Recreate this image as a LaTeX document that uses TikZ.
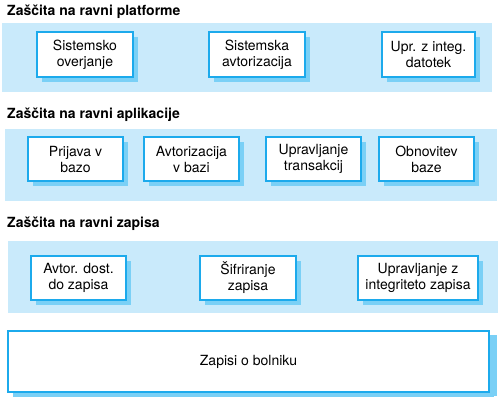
\documentclass[tikz,border=0pt]{standalone}
\usepackage{fontspec}
\setmainfont{TeX Gyre Heros}
\usetikzlibrary{shadows}
\definecolor{bandblue}{RGB}{201,234,251}
\definecolor{edgeblue}{RGB}{28,170,236}
\definecolor{shadeblue}{RGB}{122,208,246}
\tikzset{
  band/.style={fill=bandblue, draw=none, inner sep=0pt},
  layertitle/.style={anchor=base west, inner sep=0pt, font=\fontsize{14}{16}\selectfont\bfseries},
  comp/.style={draw=edgeblue, line width=1.5pt, fill=white, inner sep=0pt, align=center,
    font=\fontsize{14}{16}\selectfont,
    drop shadow={shadow xshift=5pt, shadow yshift=-5pt, fill=shadeblue, opacity=1}},
  bigcomp/.style={comp, drop shadow={shadow xshift=8pt, shadow yshift=-4pt, fill=shadeblue, opacity=1}}
}
\newcommand{\bandrect}[5]{\node[band, minimum width={#3-#2}, minimum height={#5-#4}] (#1) at ({(#2+#3)/2},{(#4+#5)/2}) {};}
\newcommand{\comprect}[6]{\node[comp, minimum width={#3-#2}, minimum height={#5-#4}] (#1) at ({(#2+#3)/2},{(#4+#5)/2}) {#6};}
\begin{document}
\begin{tikzpicture}[x=1pt,y=-1pt]
\useasboundingbox (0,0) rectangle (500,402);
% layer 1
\node[layertitle] (t1) at (7,15) {Zaščita na ravni platforme};
\bandrect{b1}{2}{492}{23}{92}
\comprect{p1}{37}{133}{32}{77}{Sistemsko\\overjanje}
\comprect{p2}{209}{305}{32}{77}{Sistemska\\avtorizacija}
\comprect{p3}{382}{475}{32}{77}{Upr. z integ.\\datotek}
% layer 2
\node[layertitle] (t2) at (7,118) {Zaščita na ravni aplikacije};
\bandrect{b2}{5}{497}{129}{201}
\comprect{a1}{28}{123}{137}{181}{Prijava v\\bazo}
\comprect{a2}{144}{239}{137}{181}{Avtorizacija\\v bazi}
\comprect{a3}{266}{361}{137}{181}{Upravljanje\\transakcij}
\comprect{a4}{379}{474}{137}{181}{Obnovitev\\baze}
% layer 3
\node[layertitle] (t3) at (7,227) {Zaščita na ravni zapisa};
\bandrect{b3}{8}{498}{241}{313}
\comprect{r1}{31}{126}{256}{300}{Avtor. dost.\\do zapisa}
\comprect{r2}{200}{296}{256}{300}{Šifriranje\\zapisa}
\comprect{r3}{358}{478}{256}{300}{Upravljanje z\\integriteto zapisa}
% records
\node[bigcomp, minimum width=481, minimum height=61] (rec) at (248.5,361.5) {Zapisi o bolniku};
\end{tikzpicture}
\end{document}
